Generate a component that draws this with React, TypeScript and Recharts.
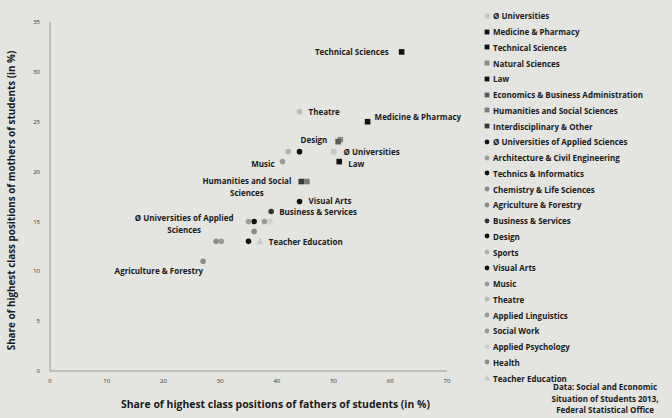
import { ScatterChart, Scatter, XAxis, YAxis, ZAxis, Label } from "recharts";

// fields of study, share of highest class positions (in %)
const fields = [
  "Ø Universities",
  "Medicine & Pharmacy",
  "Technical Sciences",
  "Natural Sciences",
  "Law",
  "Economics & Business Administration",
  "Humanities and Social Sciences",
  "Interdisciplinary & Other",
  "Ø Universities of Applied Sciences",
  "Architecture & Civil Engineering",
  "Technics & Informatics",
  "Chemistry & Life Sciences",
  "Agriculture & Forestry",
  "Business & Services",
  "Design",
  "Sports",
  "Visual Arts",
  "Music",
  "Theatre",
  "Applied Linguistics",
  "Social Work",
  "Applied Psychology",
  "Health",
  "Teacher Education",
];
const fathers = [50, 56, 62, 51.2, 51, 50.8, 45.3, 44.3, 36, 35, 35, 29.3, 27, 39, 44, 42, 44, 41, 44, 30.2, 37.8, 38.8, 36, 37];
const mothers = [22, 25, 32, 23.2, 21, 23, 19, 19, 15, 15, 13, 13, 11, 16, 22, 22, 17, 21, 26, 13, 15, 15, 14, 13];

const xTicks = [0, 10, 20, 30, 40, 50, 60, 70];
const yTicks = [0, 5, 10, 15, 20, 25, 30, 35];

const source = ["Data: Social and Economic", "Situation of Students 2013,", "Federal Statistical Office"];

// marker style per field
const shapes = [
  "square", "square", "square", "square", "square", "square", "square", "square",
  "circle", "circle", "circle", "circle", "circle", "circle", "circle", "circle",
  "circle", "circle", "circle", "circle", "circle", "circle", "circle", "triangle",
];
const colors = [
  "#c4c4c4", "#111", "#111", "#8a8a8a", "#111", "#5a5a5a", "#7a7a7a", "#3a3a3a",
  "#111", "#9a9a9a", "#111", "#8c8c8c", "#8c8c8c", "#333", "#111", "#b0b0b0",
  "#111", "#9a9a9a", "#b8b8b8", "#9a9a9a", "#999", "#cfcfcf", "#8a8a8a", "#c8c8c8",
];

// point labels: offset from marker, anchor
const labelPos: Record<string, { dx: number; dy: number; anchor: string; lines?: string[] }> = {
  "Technical Sciences": { dx: -13, dy: 3, anchor: "end" },
  "Theatre": { dx: 9, dy: 3, anchor: "start" },
  "Medicine & Pharmacy": { dx: 7, dy: -2, anchor: "start" },
  "Design": { dx: 1, dy: -9, anchor: "start" },
  "Ø Universities": { dx: 10, dy: 3, anchor: "start" },
  "Law": { dx: 9, dy: 5, anchor: "start" },
  "Music": { dx: -8, dy: 5, anchor: "end" },
  "Humanities and Social Sciences": { dx: -60, dy: 2, anchor: "middle", lines: ["Humanities and Social", "Sciences"] },
  "Visual Arts": { dx: 9, dy: 3, anchor: "start" },
  "Business & Services": { dx: 8, dy: 4, anchor: "start" },
  "Ø Universities of Applied Sciences": { dx: -70, dy: 0, anchor: "middle", lines: ["Ø Universities of Applied", "Sciences"] },
  "Teacher Education": { dx: 9, dy: 4, anchor: "start" },
  "Agriculture & Forestry": { dx: 0, dy: 13, anchor: "end" },
};

const FONT = "'Open Sans', Lato, sans-serif";

function Marker({ kind, color, cx, cy, r }: { kind: string; color: string; cx: number; cy: number; r: number }) {
  if (kind === "square") return <rect x={cx - r} y={cy - r} width={r * 2} height={r * 2} fill={color} />;
  if (kind === "triangle")
    return <polygon points={`${cx},${cy - r - 1} ${cx + r + 0.5},${cy + r} ${cx - r - 0.5},${cy + r}`} fill={color} />;
  return <circle cx={cx} cy={cy} r={r} fill={color} />;
}

function makeShape(i: number) {
  return (props: any) => {
    const { cx, cy } = props;
    const lp = labelPos[fields[i]];
    return (
      <g>
        <Marker kind={shapes[i]} color={colors[i]} cx={cx} cy={cy} r={2.8} />
        {lp && (
          <text
            x={cx + lp.dx}
            y={cy + lp.dy}
            textAnchor={lp.anchor as any}
            fontFamily={FONT}
            fontWeight={700}
            fontSize={8}
            fill="#1a1a1a"
          >
            {(lp.lines ?? [fields[i]]).map((t, k) => (
              <tspan key={k} x={cx + lp.dx} dy={k === 0 ? 0 : 12}>
                {t}
              </tspan>
            ))}
          </text>
        )}
      </g>
    );
  };
}

export default function App() {
  return (
    <div style={{ position: "absolute", left: 0, top: 0, width: 672, height: 418, background: "#e4e4e1" }}>
      <ScatterChart width={672} height={418} margin={{ top: 22, right: 225, bottom: 7, left: 10 }}>
        <XAxis
          type="number"
          dataKey="x"
          domain={[0, 70]}
          ticks={xTicks}
          tickLine={false}
          tickSize={0}
          tickMargin={8}
          stroke="#9a9a9a"
          tick={{ fontSize: 6, fill: "#333", fontFamily: FONT }}
          height={40}
        >
          <Label
            value="Share of highest class positions of fathers of students (in %)"
            position="insideBottom"
            offset={3}
            dx={27}
            style={{ fontSize: 10.4, fontWeight: 700, fill: "#1a1a1a", fontFamily: FONT }}
          />
        </XAxis>
        <YAxis
          type="number"
          dataKey="y"
          domain={[0, 35]}
          ticks={yTicks}
          tickLine={false}
          tickSize={0}
          tickMargin={10}
          stroke="#9a9a9a"
          tick={{ fontSize: 6, fill: "#333", fontFamily: FONT }}
          width={40}
        >
          <Label
            value="Share of highest class positions of mothers of students (in %)"
            angle={-90}
            position="insideLeft"
            offset={1}
            dy={4}
            style={{ fontSize: 9.9, fontWeight: 700, fill: "#1a1a1a", fontFamily: FONT, textAnchor: "middle" }}
          />
        </YAxis>
        <ZAxis range={[36, 36]} />
        {fields.map((name, i) => (
          <Scatter
            key={name}
            name={name}
            data={[{ x: fathers[i], y: mothers[i] }]}
            fill={colors[i]}
            shape={makeShape(i)}
            isAnimationActive={false}
          />
        ))}
      </ScatterChart>
      <div style={{ position: "absolute", left: 483, top: 8, fontFamily: FONT, fontWeight: 700, fontSize: 8, color: "#1a1a1a" }}>
        {fields.map((name, i) => (
          <div key={name} style={{ height: 15.75, display: "flex", alignItems: "center", whiteSpace: "nowrap" }}>
            <svg width={9} height={10} style={{ marginRight: 1 }}>
              <Marker kind={shapes[i]} color={colors[i]} cx={4} cy={5} r={2.4} />
            </svg>
            <span>{name}</span>
          </div>
        ))}
      </div>
      <svg width={672} height={418} style={{ position: "absolute", left: 0, top: 0, pointerEvents: "none" }}>
        {source.map((t, k) => (
          <text key={k} x={605} y={390 + k * 11.5} textAnchor="middle" fontFamily={FONT} fontWeight={700} fontSize={8} fill="#1a1a1a">
            {t}
          </text>
        ))}
      </svg>
    </div>
  );
}
